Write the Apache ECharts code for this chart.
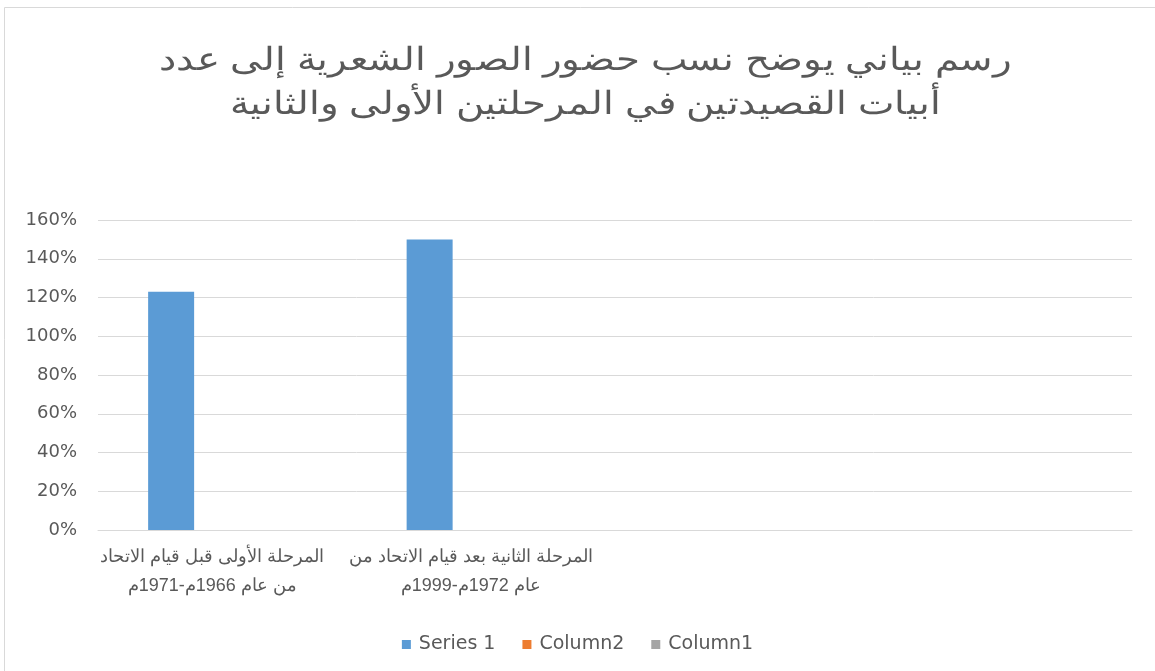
<!DOCTYPE html>
<html><head><meta charset="utf-8">
<script src="https://cdn.jsdelivr.net/npm/echarts@6/dist/echarts.min.js"></script>
<style>html,body{margin:0;padding:0;background:#fff}#c{width:1155px;height:671px}</style>
</head><body><div id="c" dir="rtl"></div>
<script>
const titleText = 'رسم بياني يوضح نسب حضور الصور الشعرية إلى عدد\nأبيات القصيدتين في المرحلتين الأولى والثانية';
const categories = [
  'المرحلة الأولى قبل قيام الاتحاد\nمن عام 1966م-1971م',
  'المرحلة الثانية بعد قيام الاتحاد من\nعام 1972م-1999م',
  '',
  ''
];
const seriesNames = ['Series 1', 'Column2', 'Column1'];
const series1 = [1.23, 1.50, null, null];
const column2 = [null, null, null, null];
const column1 = [null, null, null, null];
const yTicks = {min: 0, max: 1.6, interval: 0.2};
const colors = ['#5b9bd5', '#ed7d31', '#a5a5a5'];

const chart = echarts.init(document.getElementById('c'), null, {renderer: 'canvas'});
const txt = '#595959';
chart.setOption({
  animation: false,
  color: colors,
  legend: {
    bottom: 12, left: 'center', itemWidth: 9, itemHeight: 9, itemGap: 27, icon: 'rect',
    textStyle: {fontFamily: 'DejaVu Sans', fontSize: 19, color: txt, padding: [0, 0, 0, 3]},
    data: seriesNames
  },
  grid: {left: 98, right: 23, top: 220, bottom: 141},
  xAxis: {
    type: 'category', data: categories,
    axisLine: {lineStyle: {color: '#d9d9d9'}}, axisTick: {show: false},
    axisLabel: {interval: 0, margin: 13, color: txt, fontFamily: 'Liberation Sans', fontSize: 18, lineHeight: 29, padding: [0, 30, 0, 0]}
  },
  yAxis: {
    type: 'value', min: yTicks.min, max: yTicks.max, interval: yTicks.interval,
    axisLine: {show: false}, axisTick: {show: false},
    splitLine: {lineStyle: {color: '#d9d9d9'}},
    axisLabel: {margin: 21, color: txt, fontFamily: 'DejaVu Sans', fontSize: 18,
      formatter: v => Math.round(v * 100) + '%'}
  },
  series: [
    {name: seriesNames[0], type: 'bar', data: series1, barWidth: 46, barGap: '22%'},
    {name: seriesNames[1], type: 'bar', data: column2, barWidth: 46, barGap: '22%'},
    {name: seriesNames[2], type: 'bar', data: column1, barWidth: 46, barGap: '22%'}
  ],
  graphic: [
    {type: 'rect', shape: {x: 4.5, y: 7.5, width: 1160, height: 670}, style: {fill: 'none', stroke: '#d9d9d9', lineWidth: 1}, silent: true},
    {type: 'text', x: 585, y: 39, scaleX: 1.21, originX: 0, silent: true,
      style: {text: titleText, align: 'center', verticalAlign: 'top', fill: txt,
        font: 'normal 32px "Liberation Sans"', lineHeight: 44}}
  ]
});
</script></body></html>
